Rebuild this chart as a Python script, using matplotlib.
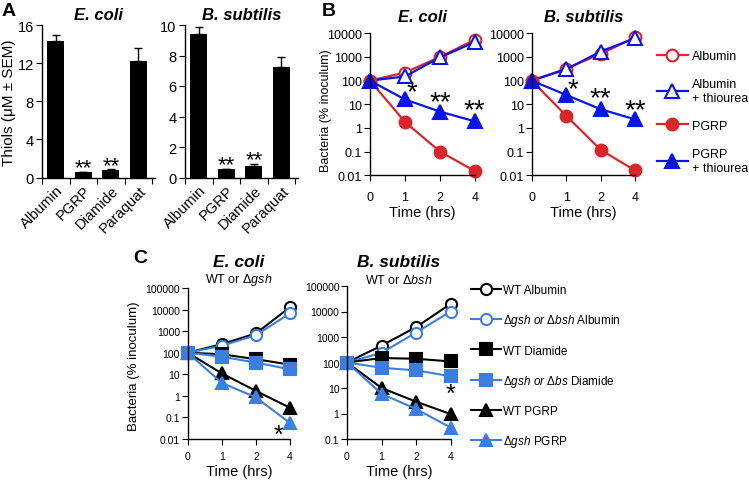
import matplotlib
matplotlib.use('Agg')
import matplotlib.pyplot as plt
import numpy as np
from matplotlib.lines import Line2D
from matplotlib.ticker import NullLocator

plt.rcParams['font.family'] = ['Liberation Sans', 'DejaVu Sans']
plt.rcParams['mathtext.fontset'] = 'custom'
plt.rcParams['mathtext.it'] = 'Liberation Sans:italic'
plt.rcParams['mathtext.rm'] = 'Liberation Sans'
plt.rcParams['axes.linewidth'] = 1.0

# ---------------- data ----------------
thiol_categories = ['Albumin', 'PGRP', 'Diamide', 'Paraquat']
thiol_ecoli = [14.3, 0.55, 0.8, 12.2]
thiol_ecoli_sem = [0.6, 0.05, 0.05, 1.35]
thiol_ecoli_sig = ['', '**', '**', '']
thiol_bsub = [9.4, 0.55, 0.75, 7.25]
thiol_bsub_sem = [0.5, 0.03, 0.15, 0.65]
thiol_bsub_sig = ['', '**', '**', '']

time_labels = ['0', '1', '2', '4']

b_ecoli_albumin = [100, 220, 1000, 5400]
b_ecoli_albumin_thio = [100, 150, 960, 4300]
b_ecoli_pgrp = [100, 1.8, 0.1, 0.015]
b_ecoli_pgrp_thio = [100, 16, 4.9, 1.9]
b_ecoli_stars = ['*', '**', '**']
b_ecoli_star_x = [1.2, 2.0, 2.97]
b_ecoli_star_y = [49, 18.6, 8.5]

b_bsub_albumin = [100, 320, 1350, 6700]
b_bsub_albumin_thio = [100, 300, 1700, 6200]
b_bsub_pgrp = [100, 3.3, 0.12, 0.016]
b_bsub_pgrp_thio = [100, 25, 6.2, 2.3]
b_bsub_stars = ['*', '**', '**']
b_bsub_star_x = [1.2, 2.0, 3.0]
b_bsub_star_y = [66, 27, 8.5]

b_labels = ['Albumin', 'Albumin\n+ thiourea', 'PGRP', 'PGRP\n+ thiourea']

c_ecoli_wt_albumin = [100, 250, 780, 13000]
c_ecoli_mut_albumin = [100, 210, 650, 6700]
c_ecoli_wt_diamide = [100, 85, 50, 28]
c_ecoli_mut_diamide = [100, 65, 35, 17]
c_ecoli_wt_pgrp = [100, 11, 1.7, 0.28]
c_ecoli_mut_pgrp = [100, 4.0, 0.85, 0.055]
c_ecoli_star = ('*', 2.65, 0.021)

c_bsub_wt_albumin = [100, 460, 2450, 20000]
c_bsub_mut_albumin = [100, 240, 1500, 10000]
c_bsub_wt_diamide = [100, 150, 140, 110]
c_bsub_mut_diamide = [100, 62, 49, 29]
c_bsub_wt_pgrp = [100, 10, 2.9, 0.95]
c_bsub_mut_pgrp = [100, 5.9, 1.5, 0.28]
c_bsub_star = ('*', 3.0, 7.6)

c_labels = ['WT Albumin',
            r'Δ$\mathit{gsh\ or}$ Δ$\mathit{bsh}$ Albumin',
            'WT Diamide',
            r'Δ$\mathit{gsh\ or}$ Δ$\mathit{bs}$ Diamide',
            'WT PGRP',
            r'Δ$\mathit{gsh}$ PGRP']

RED = '#d8262b'
BLUE = '#0a14e6'
LBLUE = '#3b7ee0'
BLACK = '#000000'

W, H = 749, 481
fig = plt.figure(figsize=(W / 100, H / 100), dpi=100)


def px_axes(x0, x1, ytop, ybot):
    return fig.add_axes([x0 / W, 1 - ybot / H, (x1 - x0) / W, (ybot - ytop) / H])


def clean(ax):
    for s in ['top', 'right']:
        ax.spines[s].set_visible(False)


def ftext(x, y, s, **kw):
    fig.text(x / W, 1 - y / H, s, **kw)


# ---------------- panel A ----------------
def bar_panel(ax, vals, sems, sig, ymax, yticks, title):
    x = np.arange(len(thiol_categories))
    ax.bar(x, vals, width=0.62, color=BLACK, zorder=2)
    ax.errorbar(x, vals, yerr=[np.zeros(len(vals)), sems], fmt='none',
                ecolor=BLACK, elinewidth=1, capsize=3, capthick=1, zorder=1)
    ax.set_xlim(-0.5, 3.6)
    ax.set_ylim(0, ymax)
    ax.set_yticks(yticks)
    ax.set_xticks(np.arange(-0.5, 4.0, 1.0))
    ax.set_xticklabels([])
    ax.set_xticks(x, minor=True)
    ax.set_xticklabels(thiol_categories, minor=True, rotation=45, ha='right',
                       rotation_mode='anchor', fontsize=10.5)
    ax.tick_params(axis='x', which='minor', length=0, pad=4)
    ax.tick_params(axis='x', which='major', length=4, direction='out')
    ax.tick_params(axis='y', length=4, pad=2, labelsize=10.5)
    for i, s in enumerate(sig):
        if s:
            ax.annotate(s, (x[i], vals[i] + sems[i]), xytext=(0, 3),
                        textcoords='offset points', ha='center', va='center',
                        fontsize=16)
    ax.set_title(title, fontsize=12, fontweight='bold', fontstyle='italic', pad=4)
    clean(ax)


axA1 = px_axes(42, 155, 26, 178.5)
bar_panel(axA1, thiol_ecoli, thiol_ecoli_sem, thiol_ecoli_sig, 16, [0, 4, 8, 12, 16], 'E. coli')
axA2 = px_axes(185, 298, 26, 178.5)
bar_panel(axA2, thiol_bsub, thiol_bsub_sem, thiol_bsub_sig, 10, [0, 2, 4, 6, 8, 10], 'B. subtilis')
ftext(9, 103, 'Thiols (μM ± SEM)', rotation=90, ha='center', va='center', fontsize=11)


# ---------------- time-course helpers ----------------
def time_axes(ax, ylim, yticks, tick_fs):
    ax.set_yscale('log')
    ax.set_ylim(*ylim)
    ax.set_xlim(0, 3)
    ax.set_xticks(range(len(time_labels)))
    ax.set_xticklabels(time_labels)
    ax.set_yticks(yticks)
    ax.set_yticklabels([f'{v:g}' for v in yticks])
    ax.yaxis.set_minor_locator(NullLocator())
    ax.tick_params(axis='both', length=4, labelsize=tick_fs)
    ax.tick_params(axis='y', pad=1.5)
    clean(ax)


def series(ax, y, color, marker, filled, ms, lw):
    ax.plot(range(len(y)), y, color=color, marker=marker, ms=ms, lw=lw,
            mfc=color if filled else 'white', mec=color, mew=1.5, clip_on=False)


# ---------------- panel B ----------------
b_ticks = [0.01, 0.1, 1, 10, 100, 1000, 10000]
b_styles = [(RED, 'o', False, 8.5), (BLUE, '^', False, 9.5),
            (RED, 'o', True, 8.5), (BLUE, '^', True, 9.5)]


def panel_b(ax, data, stars, sx, sy, title):
    for y, (c, m, f, ms) in zip(data, b_styles):
        series(ax, y, c, m, f, ms, 1.6)
    time_axes(ax, (0.01, 10000), b_ticks, 9)
    ax.tick_params(axis='x', pad=7)
    ax.set_title(title, fontsize=12, fontweight='bold', fontstyle='italic', pad=9)
    ax.set_xlabel('Time (hrs)', fontsize=10.5, labelpad=2)
    for s, x, y in zip(stars, sx, sy):
        ax.annotate(s, (x, y), xytext=(0, -3), textcoords='offset points',
                    ha='center', va='center', fontsize=20)


axB1 = px_axes(370, 475, 34.3, 176.3)
panel_b(axB1, [b_ecoli_albumin, b_ecoli_albumin_thio, b_ecoli_pgrp, b_ecoli_pgrp_thio],
        b_ecoli_stars, b_ecoli_star_x, b_ecoli_star_y, 'E. coli')
axB2 = px_axes(531.7, 635, 34.3, 176.3)
panel_b(axB2, [b_bsub_albumin, b_bsub_albumin_thio, b_bsub_pgrp, b_bsub_pgrp_thio],
        b_bsub_stars, b_bsub_star_x, b_bsub_star_y, 'B. subtilis')
ftext(326, 111, 'Bacteria (% inoculum)', rotation=90, ha='center', va='center', fontsize=9)

b_handles = [Line2D([], [], color=c, marker=m, ms=ms, lw=1.6, mew=1.5,
                    mfc=c if f else 'white', mec=c) for c, m, f, ms in b_styles]
fig.legend(b_handles, b_labels, loc='upper left',
           bbox_to_anchor=(656.7 / W, 1 - 51 / H), frameon=False, fontsize=9,
           handlelength=2.5, handletextpad=0.3, labelspacing=1.28,
           borderpad=0, borderaxespad=0)

# ---------------- panel C ----------------
c_styles = [(BLACK, 'o', False), (LBLUE, 'o', False), (BLACK, 's', True),
            (LBLUE, 's', True), (BLACK, '^', True), (LBLUE, '^', True)]
c_order = [0, 1, 4, 5, 2, 3]


def panel_c(ax, data, ylim, yticks, star, title, sub):
    for k in c_order:
        c, m, f = c_styles[k]
        series(ax, data[k], c, m, f, 8, 1.5)
    time_axes(ax, ylim, yticks, 7.5)
    ax.tick_params(axis='x', pad=4.5)
    ax.set_xlabel('Time (hrs)', fontsize=10.5, labelpad=2)
    ax.annotate(star[0], (star[1], star[2]), xytext=(0, -2), textcoords='offset points',
                ha='center', va='center', fontsize=18)
    # title and subtitle at fixed heights shared by both C panels
    xc = ax.get_position().x0 + ax.get_position().width / 2
    fig.text(xc, 1 - 263 / H, title, fontsize=12.5, fontweight='bold',
             fontstyle='italic', ha='center', va='center')
    fig.text(xc, 1 - 280 / H, sub, fontsize=9, ha='center', va='center')


axC1 = px_axes(187.7, 290, 289, 440)
panel_c(axC1, [c_ecoli_wt_albumin, c_ecoli_mut_albumin, c_ecoli_wt_diamide,
               c_ecoli_mut_diamide, c_ecoli_wt_pgrp, c_ecoli_mut_pgrp],
        (0.01, 100000), [0.01, 0.1, 1, 10, 100, 1000, 10000, 100000],
        c_ecoli_star, 'E. coli', r'WT or Δ$\mathit{gsh}$')
axC2 = px_axes(347, 450.7, 287, 440)
panel_c(axC2, [c_bsub_wt_albumin, c_bsub_mut_albumin, c_bsub_wt_diamide,
               c_bsub_mut_diamide, c_bsub_wt_pgrp, c_bsub_mut_pgrp],
        (0.1, 100000), [0.1, 1, 10, 100, 1000, 10000, 100000],
        c_bsub_star, 'B. subtilis', r'WT or Δ$\mathit{bsh}$')
ftext(134, 366, 'Bacteria (% inoculum)', rotation=90, ha='center', va='center', fontsize=9.5)

c_handles = [Line2D([], [], color=c, marker=m, ms=8, lw=1.5, mew=1.5,
                    mfc=c if f else 'white', mec=c) for c, m, f in c_styles]
fig.legend(c_handles, c_labels, loc='upper left',
           bbox_to_anchor=(470.7 / W, 1 - 285 / H), frameon=False, fontsize=8.5,
           handlelength=2.6, handletextpad=0.15, labelspacing=1.38,
           borderpad=0, borderaxespad=0)

# ---------------- panel letters ----------------
ftext(2, 12, 'A', fontsize=14, fontweight='bold', va='center')
ftext(322, 12, 'B', fontsize=14, fontweight='bold', va='center')
ftext(133, 259, 'C', fontsize=14, fontweight='bold', va='center')

fig.savefig('out.png', dpi=100)
